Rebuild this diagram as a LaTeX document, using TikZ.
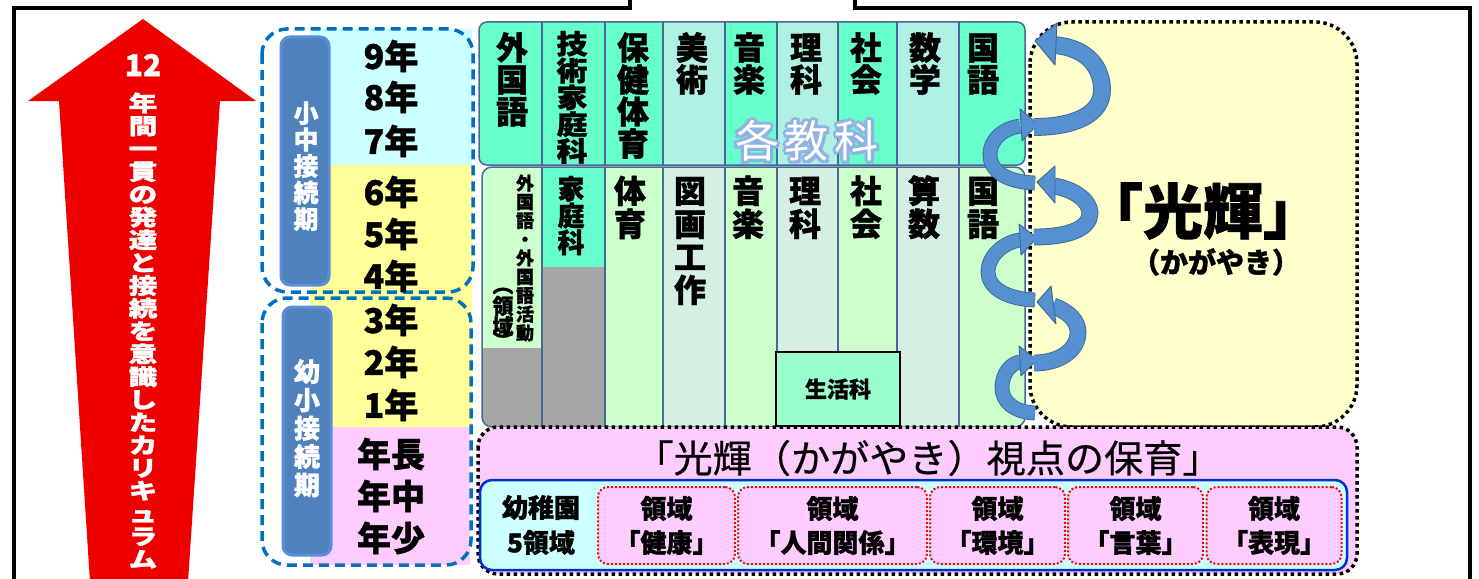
\documentclass[tikz,border=0pt]{standalone}
\usepackage{fontspec}
\usepackage{graphicx}
\setmainfont{Noto Sans CJK JP}[BoldFeatures={FakeBold=1.2}]
\newcommand{\myfs}[2]{\fontsize{#1}{#2}\selectfont}
\newcommand{\vstk}[1]{\vtop{\lineskiplimit=-\maxdimen\lineskip=0pt\def\\{\hss\egroup\hbox to 0pt\bgroup\hss}\hbox to 0pt\bgroup\hss#1\hss\egroup}}
\definecolor{arrowred}{HTML}{EE0000}
\definecolor{dashblue}{HTML}{0070C0}
\definecolor{barfill}{HTML}{4F81BD}
\definecolor{barline}{HTML}{5A8FD8}
\definecolor{ycyan}{HTML}{CCFFFF}
\definecolor{yyellow}{HTML}{FFFF99}
\definecolor{ypink}{HTML}{FFCCFF}
\definecolor{aqua}{HTML}{66FFCC}
\definecolor{aqual}{HTML}{AFF2E3}
\definecolor{lgreen}{HTML}{CCFFCC}
\definecolor{lgg}{HTML}{D5F0E3}
\definecolor{grayc}{HTML}{A6A6A6}
\definecolor{seika}{HTML}{99FFCC}
\definecolor{kyellow}{HTML}{FFFFCC}
\definecolor{boxline}{HTML}{4A6896}
\definecolor{innerblue}{HTML}{0033CC}
\definecolor{ribbon}{HTML}{5590D0}
\definecolor{ribbonline}{HTML}{3B6699}
\definecolor{glow}{HTML}{8EB2E2}
\tikzset{
  frame/.style={draw=black, line width=4pt},
  dashbox/.style={draw=dashblue, line width=3.5pt, dash pattern=on 10pt off 6pt, rounded corners=25pt},
  bar/.style={draw=barline, fill=barfill, line width=3pt, rounded corners=9pt},
  vt/.style={inner sep=0pt, anchor=base},
  yr/.style={inner sep=0pt, font=\bfseries\myfs{34}{34}},
  subj/.style={vt, font=\bfseries\myfs{32}{32}},
  subjl/.style={vt, font=\bfseries\myfs{32}{33}},
  subjs/.style={vt, font=\bfseries\myfs{27}{26.8}},
  sepline/.style={draw=boxline, line width=1.5pt},
  dotbox/.style={draw=black, line width=3.5pt, dash pattern=on 3.5pt off 3.5pt},
  redbox/.style={draw=red, line width=2pt, dash pattern=on 2pt off 2pt, rounded corners=10pt, fill=ypink, minimum height=77pt, inner sep=0pt, align=center, font=\bfseries\myfs{26}{34}},
  kk/.style={inner sep=0pt, font=\myfs{44}{44}},
  rib/.style={draw=ribbonline, line width=0.9pt, double=ribbon, double distance=13pt},
  ahead/.style={fill=ribbon, draw=ribbonline, line width=0.9pt, line join=round}
}
\begin{document}
\begin{tikzpicture}[x=1pt,y=-1pt]
\useasboundingbox (0,0) rectangle (1479,578);
\fill[white] (0,0) rectangle (1479,578);
% outer frame
\draw[frame] (14,582) -- (14,8) -- (630,8) -- (630,-3);
\draw[frame] (855,-3) -- (855,8) -- (1470,8) -- (1470,582);

% red arrow
\fill[arrowred] (143,19) -- (256,101) -- (220,101) -- (188,582) -- (90,582) -- (59,101) -- (28,101) -- cycle;
\node[font=\bfseries\myfs{30}{30}, text=white, inner sep=0pt] (n12) at (143,65) {12};
\node[vt, text=white, font=\bfseries\myfs{22}{22.8}] (arrtxt) at (143,111.4) {\scalebox{1.3}[1]{\vstk{年\\間\\一\\貫\\の\\発\\達\\と\\接\\続\\を\\意\\識\\し\\た\\カ\\リ\\キ\\ュ\\ラ\\ム}}};

% year panel
\fill[ycyan] (310,29) rectangle (472,165);
\fill[yyellow] (310,165) rectangle (472,427);
\fill[ypink] (310,427) rectangle (470,565);
\draw[dashbox] (262,29) rectangle (473,292);
\draw[dashbox] (262,298) rectangle (471,565);
\draw[bar] (281,37) rectangle (329,285);
\draw[bar] (283,307) rectangle (331,555);
\node[vt, text=white, font=\bfseries\myfs{25}{26.5}] (lbl1) at (306,122.5) {\vstk{小\\中\\接\\続\\期}};
\node[vt, text=white, font=\bfseries\myfs{26}{28.3}] (lbl2) at (307,381.5) {\vstk{幼\\小\\接\\続\\期}};
\foreach \t/\y [count=\i] in {9年/56,8年/97,7年/141,6年/192,5年/234,4年/276,3年/320,2年/362,1年/405,年長/454,年中/496,年少/538}
  \node[yr] (y\i) at (391,\y) {\t};

% kagayaki box (yellow)
\draw[dotbox, fill=kyellow, rounded corners=42pt] (1030,22) rectangle (1357,427);
\node[inner sep=0pt, font=\bfseries\myfs{60}{60}] (kg) at (1203,211) {「光輝」};
\node[inner sep=0pt, font=\bfseries\myfs{28}{28}] (kgy) at (1216,262) {（かがやき）};

% upper subject box
\begin{scope}
\clip[rounded corners=8pt] (479,22) rectangle (1025,165);
\fill[aqua] (479,22) rectangle (1025,165);
\fill[aqual] (663,22) rectangle (725,165);
\fill[aqual] (777,22) rectangle (838,165);
\fill[aqual] (897,22) rectangle (959,165);
\end{scope}
\foreach \x in {542,605,663,725,777,838,897,959} \draw[sepline] (\x,22) -- (\x,165);
\draw[sepline, rounded corners=8pt] (479,22) rectangle (1025,165);

% lower subject box
\begin{scope}
\clip[rounded corners=10pt] (482,167) rectangle (1025,427);
\fill[lgreen] (482,167) rectangle (1025,427);
\fill[grayc] (482,348) rectangle (542,427);
\fill[aqua] (542,167) rectangle (605,267);
\fill[grayc] (542,267) rectangle (605,427);
\fill[lgg] (663,167) rectangle (725,427);
\fill[lgg] (777,167) rectangle (838,427);
\fill[lgg] (897,167) rectangle (959,427);
\end{scope}
\foreach \x in {542,605,663,725,777,838,897,959} \draw[sepline] (\x,167) -- (\x,427);
\draw[sepline, rounded corners=10pt] (482,167) rectangle (1025,427);

% upper subject labels
\node[subj] (u1) at (512,59.7) {\vstk{外\\国\\語}};
\node[subjs] (u2) at (572,54) {\scalebox{1.15}[1]{\vstk{技\\術\\家\\庭\\科}}};
\node[subj] (u3) at (633,59.7) {\vstk{保\\健\\体\\育}};
\node[subj] (u4) at (692,59.7) {\vstk{美\\術}};
\node[subj] (u5) at (749,59.7) {\vstk{音\\楽}};
\node[subj] (u6) at (806,59.7) {\vstk{理\\科}};
\node[subj] (u7) at (866,59.7) {\vstk{社\\会}};
\node[subj] (u8) at (925,59.7) {\vstk{数\\学}};
\node[subj] (u9) at (983,59.7) {\vstk{国\\語}};

% kakukyouka glow text
\foreach \dx/\dy [count=\i] in {3/0,-3/0,0/3,0/-3,2.2/2.2,-2.2/2.2,2.2/-2.2,-2.2/-2.2}
  \node[kk, text=glow] (kkg\i) at (807+\dx,141+\dy) {各\hspace{6pt}教\hspace{6pt}科};
\node[kk, text=white] (kkw) at (807,141) {各\hspace{6pt}教\hspace{6pt}科};

% lower subject labels
\node[vt, font=\bfseries\myfs{18}{18.7}] (l1a) at (525,190) {\vstk{外\\国\\語\\・\\外\\国\\語\\活\\動}};
\node[inner sep=0pt, font=\bfseries\myfs{21}{21}] (l1p) at (503,291) {︵};
\node[inner sep=0pt, font=\bfseries\myfs{21}{21}] (l1b) at (503,306) {領};
\node[inner sep=0pt, font=\bfseries\myfs{21}{21}] (l1c) at (503,326) {域};
\node[inner sep=0pt, font=\bfseries\myfs{21}{21}] (l1q) at (503,340) {︶};
\node[subjs] (l2) at (571,199) {\vstk{家\\庭\\科}};
\node[subjl] (l3) at (630,203) {\vstk{体\\育}};
\node[subjl] (l4) at (690,203) {\vstk{図\\画\\工\\作}};
\node[subjl] (l5) at (748,203) {\vstk{音\\楽}};
\node[subjl] (l6) at (805,203) {\vstk{理\\科}};
\node[subjl] (l7) at (866,203) {\vstk{社\\会}};
\node[subjl] (l8) at (924,203) {\vstk{算\\数}};
\node[subjl] (l9) at (983,203) {\vstk{国\\語}};
\node[draw=black, line width=2.5pt, fill=seika, minimum width=124pt, minimum height=74pt, inner sep=0pt, font=\bfseries\myfs{22}{22}] (seikatsu) at (838,389) {生活科};

% pink hoiku box
\draw[dotbox, fill=ypink, rounded corners=20pt] (478,427) rectangle (1357,574);
\node[inner sep=0pt, font=\myfs{38}{38}\addfontfeature{FakeBold=0.5}] (title) at (928,458) {\scalebox{1.03}[1]{「光輝（かがやき）視点の保育」}};
\draw[draw=innerblue, line width=2.5pt, fill=ycyan, rounded corners=12pt] (480,480) rectangle (1347,570);
\node[inner sep=0pt, align=center, font=\bfseries\myfs{26}{35}] (yochien) at (541,525) {幼稚園\\5領域};
\node[redbox, minimum width=137pt] (r1) at (666.5,525.5) {領域\\「健康」};
\node[redbox, minimum width=189pt] (r2) at (832.5,525.5) {領域\\「人間関係」};
\node[redbox, minimum width=135pt] (r3) at (997.5,525.5) {領域\\「環境」};
\node[redbox, minimum width=135pt] (r4) at (1135.5,525.5) {領域\\「言葉」};
\node[redbox, minimum width=135pt] (r5) at (1274,525.5) {領域\\「表現」};

% spiral arrows: back loops
\draw[rib] (1035,183) .. controls (1005,182) and (990,170) .. (990,155) .. controls (990,138) and (1005,128) .. (1020,126);
\draw[ahead] (1038,124) -- (1020,109) -- (1022,141) -- cycle;
\draw[rib] (1035,300) .. controls (1005,299) and (988,287) .. (988,272) .. controls (988,255) and (1005,242) .. (1020,240);
\draw[ahead] (1037,238) -- (1019,224) -- (1021,255) -- cycle;
\draw[rib] (1035,413) .. controls (1012,412) and (1002,400) .. (1002,388) .. controls (1002,372) and (1012,363) .. (1020,362);
\draw[ahead] (1037,360) -- (1019,346) -- (1021,376) -- cycle;
% front loops
\draw[rib, double distance=16pt] (1054,45) .. controls (1090,48) and (1102,70) .. (1102,90) .. controls (1102,114) and (1075,127) .. (1034,127);
\draw[ahead] (1035,41) -- (1057,23) -- (1055,65) -- cycle;
\draw[rib, double distance=15pt] (1054,186) .. controls (1078,190) and (1090,203) .. (1090,213) .. controls (1090,228) and (1070,237) .. (1034,237);
\draw[ahead] (1037,182) -- (1055,166) -- (1055,203) -- cycle;
\draw[rib, double distance=15pt] (1053,306) .. controls (1070,312) and (1078,322) .. (1078,332) .. controls (1078,350) and (1060,363) .. (1034,363);
\draw[ahead] (1037,302) -- (1051,286) -- (1056,324) -- cycle;
\end{tikzpicture}
\end{document}
